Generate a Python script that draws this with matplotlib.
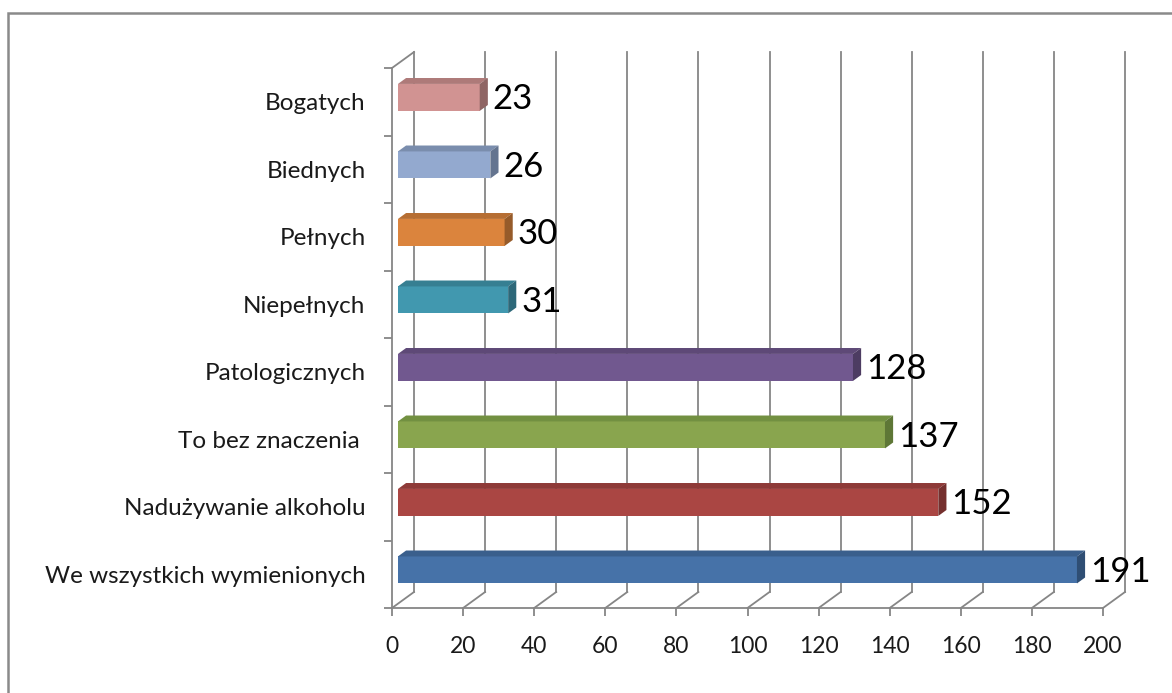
import numpy as np
import matplotlib
matplotlib.use("Agg")
import matplotlib.pyplot as plt
from matplotlib.patches import Polygon, Rectangle

plt.rcParams['font.family'] = ['Lato', 'DejaVu Sans']

# data (bottom to top)
categories = ['We wszystkich wymienionych', 'Nadużywanie alkoholu', 'To bez znaczenia ',
              'Patologicznych', 'Niepełnych', 'Pełnych', 'Biednych', 'Bogatych']
values = [191, 152, 137, 128, 31, 30, 26, 23]
front_colors = ['#4672A8', '#AA4643', '#89A54E', '#71588F', '#4198AF', '#DB843D', '#93A9CF', '#D19392']
top_colors = ['#3A5F8C', '#8E3A38', '#729041', '#5E4977', '#367F92', '#B66E33', '#7A8DAD', '#AE7A79']
side_colors = ['#2F4E74', '#75302E', '#5E7736', '#4D3C62', '#2D6879', '#965B2A', '#64748F', '#8F6564']
xticks = np.arange(0, 201, 20)

W, H = 1172, 693
fig = plt.figure(figsize=(W / 100, H / 100), dpi=100)
L, R, T, B = 392, 1103, 68, 608
ax = fig.add_axes([L / W, (H - B) / H, (R - L) / W, (B - T) / H])
ax.set_xlim(0, 200)
ax.set_ylim(-0.5, len(categories) - 0.5)

# pixel -> data helpers
sx = 200 / (R - L)
sy = len(categories) / (B - T)
DX, DY = 22 * sx, 16 * sy
grid_c = '#868686'

# back wall gridlines and floor diagonals
ytop = len(categories) - 0.5
for v in xticks:
    ax.plot([v + DX, v + DX], [-0.5 + DY, ytop + DY], color=grid_c, lw=1.3, clip_on=False, zorder=1)
    ax.plot([v, v + DX], [-0.5, -0.5 + DY], color=grid_c, lw=1.3, clip_on=False, zorder=1)
ax.plot([0, DX], [ytop, ytop + DY], color=grid_c, lw=1.3, clip_on=False, zorder=1)

# 3d bars
f0, f1 = 0.27, 0.64
h = 27 * sy
d = (f1 - f0)
for i, (v, fc, tc, sc) in enumerate(zip(values, front_colors, top_colors, side_colors)):
    x0 = f0 * DX
    x1 = v + f0 * DX
    yb = i - h / 2 + f0 * DY
    yt = i + h / 2 + f0 * DY
    ax.add_patch(Polygon([(x0, yb), (x1, yb), (x1, yt), (x0, yt)], closed=True,
                         facecolor=fc, edgecolor='none', zorder=3, clip_on=False))
    ax.add_patch(Polygon([(x0, yt), (x1, yt), (x1 + d * DX, yt + d * DY), (x0 + d * DX, yt + d * DY)],
                         closed=True, facecolor=tc, edgecolor='none', zorder=3, clip_on=False))
    ax.add_patch(Polygon([(x1, yb), (x1, yt), (x1 + d * DX, yt + d * DY), (x1 + d * DX, yb + d * DY)],
                         closed=True, facecolor=sc, edgecolor='none', zorder=3, clip_on=False))
    ax.text(x1 + d * DX + 5 * sx, i + f0 * DY - 2 * sy, str(v), fontsize=25, va='center', ha='left',
            color='black', zorder=4, clip_on=False)

# axes
for s in ['top', 'right']:
    ax.spines[s].set_visible(False)
for s in ['left', 'bottom']:
    ax.spines[s].set_color(grid_c)
    ax.spines[s].set_linewidth(1.3)
ax.set_xticks(xticks)
ax.set_xticklabels([str(t) for t in xticks], fontsize=16.5, color='#1a1a1a')
ax.set_yticks(np.arange(len(categories)))
ax.set_yticklabels(categories, fontsize=17.5, color='#1a1a1a')
ax.set_yticks(np.arange(-0.5, len(categories)), minor=True)
ax.tick_params(axis='x', length=5.5, width=1.3, color=grid_c, pad=15)
ax.tick_params(axis='y', which='major', length=0, pad=19)
ax.tick_params(axis='y', which='minor', length=5.5, width=1.3, color=grid_c)
ax.patch.set_alpha(0)

# outer frame
fig.add_artist(Rectangle((8 / W, -0.05), 1.1, 1 - 13 / H + 0.05, transform=fig.transFigure,
                         fill=False, edgecolor='#8a8a8a', lw=1.8))

fig.savefig('out.png', dpi=100)
